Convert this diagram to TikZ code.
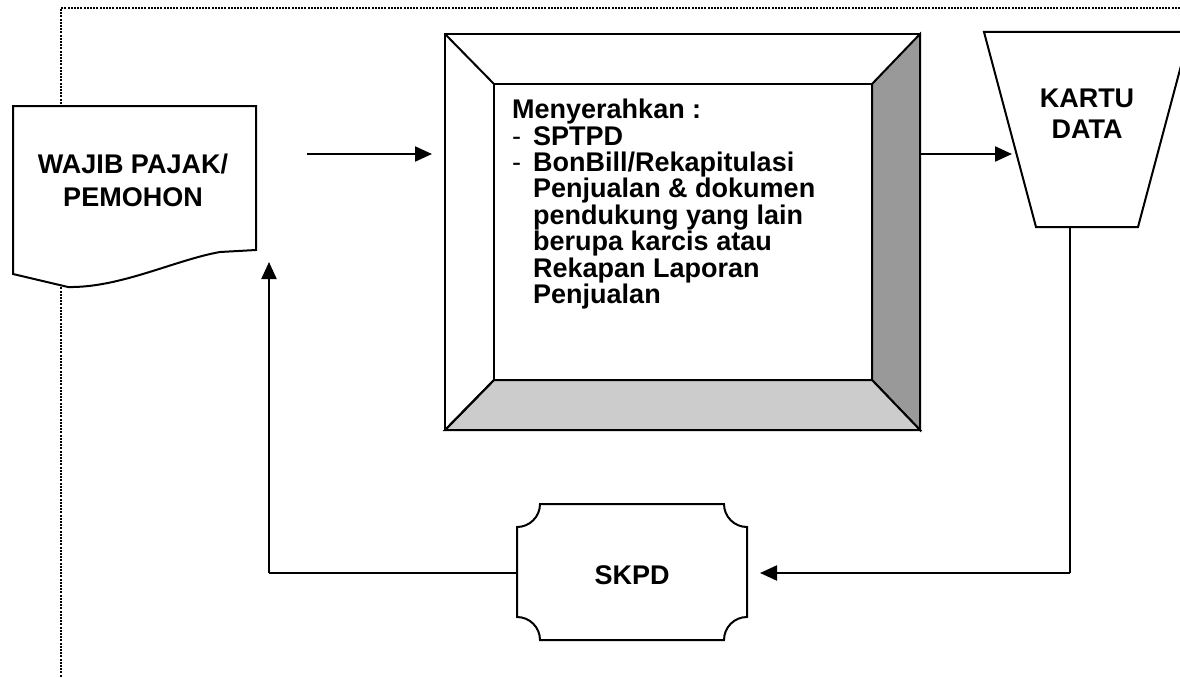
\documentclass[tikz,border=0pt]{standalone}
\usepackage{fontspec}
\setmainfont{Liberation Sans}
\usetikzlibrary{arrows.meta}

\tikzset{
  outline/.style={draw=black, line width=2pt, line join=miter},
  flow/.style={draw=black, line width=2.2pt, -{Triangle[length=17pt,width=15pt]}},
  link/.style={draw=black, line width=2pt},
  frame/.style={draw=black, line width=2pt, dash pattern=on 2pt off 1.2pt},
  label/.style={font=\fontsize{27}{33}\selectfont\bfseries, align=center, inner sep=0pt},
}

\begin{document}
\begin{tikzpicture}[x=1pt, y=-1pt]
\useasboundingbox (0,0) rectangle (1180,677);
\clip (0,0) rectangle (1180,677);
\fill[white] (0,0) rectangle (1180,677);

% dotted frame (top and left)
\draw[frame] (1180,8) -- (61,8) -- (61,677);

% taxpayer document
\draw[outline, fill=white] (13,106) -- (256,106) -- (256,250) -- (220,252)
  .. controls (175,260) and (120,288) .. (68,287) -- (13,274) -- cycle;
\node[label] (wp) at (133,180) {WAJIB PAJAK/\\PEMOHON};

% bevelled submission box
\draw[outline, fill=white] (445,34) rectangle (920,430);
\draw[outline, fill=black!40] (872,84) -- (920,34) -- (920,430) -- (872,380) -- cycle;
\draw[outline, fill=black!20] (494,380) -- (872,380) -- (920,430) -- (445,430) -- cycle;
\draw[outline] (445,34) -- (494,84);
\draw[outline] (445,430) -- (494,380);
\draw[outline, fill=white] (494,84) rectangle (872,380);
\node[anchor=north west, inner sep=0pt, align=left,
      font=\fontsize{27}{26.4}\selectfont\bfseries] (list) at (512,99)
  {Menyerahkan :\\\makebox[21pt][l]{\mdseries -}SPTPD\\\makebox[21pt][l]{\mdseries -}BonBill/Rekapitulasi\\\hspace*{21pt}Penjualan \& dokumen\\\hspace*{21pt}pendukung yang lain\\\hspace*{21pt}berupa karcis atau\\\hspace*{21pt}Rekapan Laporan\\\hspace*{21pt}Penjualan};

% data card (trapezoid)
\draw[outline, fill=white] (984,32) -- (1190,32) -- (1138,227) -- (1036,227) -- cycle;
\node[label, font=\fontsize{27}{31}\selectfont\bfseries] (kartu) at (1087,114) {KARTU\\DATA};

% SKPD display shape with concave corners
\draw[outline, fill=white]
  (540,504) -- (724,504)
  .. controls (724,516.7) and (734.3,527) .. (747,527)
  -- (747,617)
  .. controls (734.3,617) and (724,627.3) .. (724,640)
  -- (540,640)
  .. controls (540,627.3) and (529.7,617) .. (517,617)
  -- (517,527)
  .. controls (529.7,527) and (540,516.7) .. (540,504) -- cycle;
\node[label] (skpd) at (632,575) {SKPD};

% connection points
\coordinate (wpOut) at (307,154);
\coordinate (bevelIn) at (432,154);
\coordinate (bevelOut) at (920,154);
\coordinate (kartuIn) at (1012,154);
\coordinate (kartuOut) at (1070,227);
\coordinate (kartuTurn) at (1070,573);
\coordinate (skpdIn) at (760,573);
\coordinate (skpdOut) at (517,573);
\coordinate (wpTurn) at (269,573);
\coordinate (wpIn) at (269,262);

% connectors
\draw[flow] (wpOut) -- (bevelIn);
\draw[flow] (bevelOut) -- (kartuIn);
\draw[link] (kartuOut) -- (kartuTurn);
\draw[flow] (kartuTurn) -- (skpdIn);
\draw[link] (skpdOut) -- (wpTurn);
\draw[flow] (wpTurn) -- (wpIn);
\end{tikzpicture}
\end{document}
